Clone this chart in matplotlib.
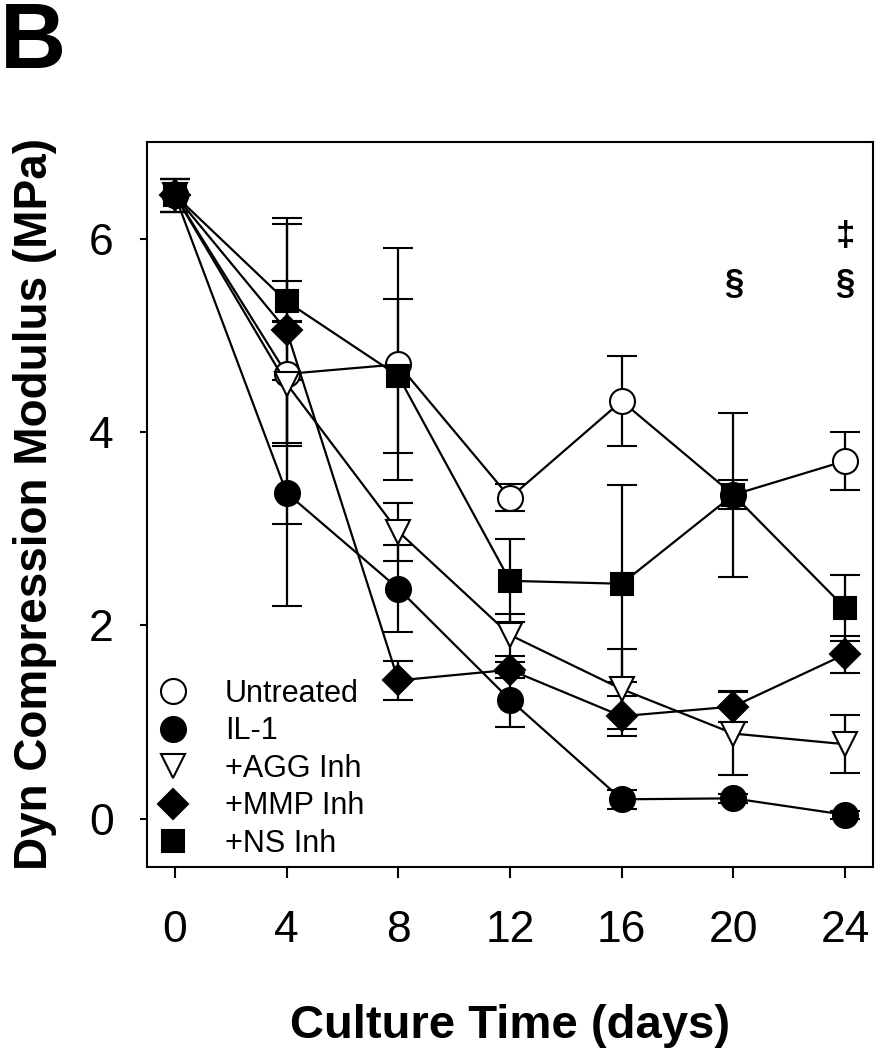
import numpy as np
import matplotlib
matplotlib.use("Agg")
import matplotlib.pyplot as plt
from matplotlib.lines import Line2D

plt.rcParams['font.family'] = ['Liberation Sans', 'DejaVu Sans']

days = [0, 4, 8, 12, 16, 20, 24]

untreated = [6.45, 4.60, 4.70, 3.32, 4.32, 3.35, 3.70]
untreated_err = [0.17, 1.55, 1.20, 0.14, 0.47, 0.85, 0.30]
il1 = [6.45, 3.37, 2.38, 1.23, 0.20, 0.21, 0.04]
il1_err = [0.17, 1.17, 0.45, 0.28, 0.10, 0.05, 0.04]
agg = [6.45, 4.50, 2.97, 1.90, 1.34, 0.88, 0.77]
agg_err = [0.17, 0.65, 0.30, 0.22, 0.41, 0.43, 0.30]
mmp = [6.45, 5.05, 1.43, 1.54, 1.06, 1.16, 1.70]
mmp_err = [0.17, 1.16, 0.20, 0.08, 0.21, 0.16, 0.19]
ns = [6.45, 5.35, 4.58, 2.46, 2.43, 3.35, 2.18]
ns_err = [0.17, 0.21, 0.80, 0.43, 1.02, 0.15, 0.34]

labels = ['Untreated', 'IL-1', '+AGG Inh', '+MMP Inh', '+NS Inh']

fig = plt.figure(figsize=(8.8, 10.5), dpi=100)
ax = fig.add_axes([0.167, 0.1743, 0.825, 0.6905])

series = [
    (untreated, untreated_err, 'o', 'white', 18),
    (il1, il1_err, 'o', 'black', 18),
    (agg, agg_err, 'v', 'white', 17),
    (mmp, mmp_err, 'D', 'black', 15),
    (ns, ns_err, 's', 'black', 16),
]

handles = []
for (vals, err, mk, fc, ms), lab in zip(series, labels):
    ax.errorbar(days, vals, yerr=err, color='black', marker=mk, markerfacecolor=fc,
                markeredgecolor='black', markeredgewidth=1.5, markersize=ms,
                linewidth=1.6, elinewidth=1.6, capsize=11, capthick=1.6)
    handles.append(Line2D([], [], linestyle='none', marker=mk, markerfacecolor=fc,
                          markeredgecolor='black', markeredgewidth=1.5, markersize=ms,
                          label=lab))

# significance markers
ax.text(20, 5.55, '§', ha='center', va='center', fontsize=25, fontweight='bold')
ax.text(24, 5.55, '§', ha='center', va='center', fontsize=25, fontweight='bold')
ax.text(24, 6.02, '‡', ha='center', va='center', fontsize=25, fontweight='bold')

ax.set_xlim(-1.0, 25.0)
ax.set_ylim(-0.5, 7.0)
ax.set_xticks(days)
ax.set_yticks([0, 2, 4, 6])
ax.tick_params(axis='x', direction='out', length=8, width=1.5, labelsize=32, pad=23)
ax.tick_params(axis='y', direction='out', length=5, width=1.5, labelsize=32, pad=19)
for s in ax.spines.values():
    s.set_linewidth(1.5)

ax.set_xlabel('Culture Time (days)', fontsize=34, fontweight='bold', labelpad=38)
ax.set_ylabel('Dyn Compression Modulus (MPa)', fontsize=33, fontweight='bold', labelpad=23)

ax.legend(handles=handles, loc='lower left', frameon=False, fontsize=22, handlelength=0.9,
          handletextpad=1.25, borderaxespad=0.0, labelspacing=0.25,
          bbox_to_anchor=(0.0, -0.006))

fig.text(0.0, 0.935, 'B', fontsize=66, fontweight='bold', va='baseline', ha='left')

fig.savefig('out.png', dpi=100)
